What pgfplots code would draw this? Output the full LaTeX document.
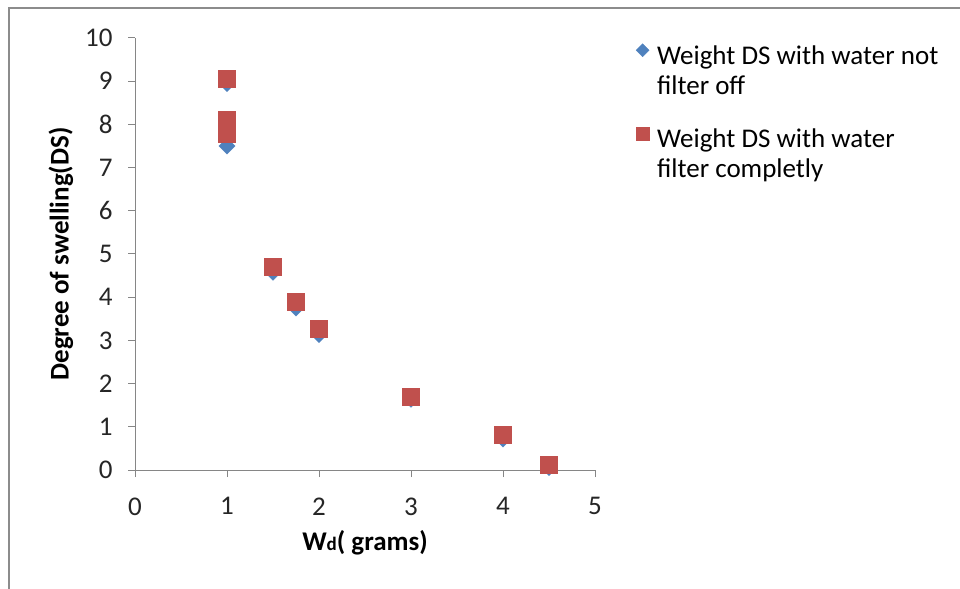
\documentclass[border=0pt]{standalone}
\usepackage{pgfplots}
\pgfplotsset{compat=1.18}
\usepackage{fontspec}
\setmainfont{Carlito}
\definecolor{sblue}{HTML}{4F81BD}
\definecolor{sred}{HTML}{C0504D}
\definecolor{axgray}{HTML}{868686}
\definecolor{bordergray}{HTML}{8C8C8C}
\newcommand{\ls}{\rule[-11bp]{0pt}{40bp}}
\begin{document}
\begin{tikzpicture}
\path[use as bounding box] (0,0) rectangle (960bp,589bp);
\draw[bordergray, line width=2bp] (9bp,0) -- (9bp,581bp) -- (960bp,581bp);
\begin{axis}[
  at={(135bp,119bp)}, anchor=south west,
  scale only axis, width=460bp, height=432bp,
  xmin=0, xmax=5, ymin=0, ymax=10,
  xtick={0,1,2,3,4,5}, ytick={0,1,...,10},
  axis x line*=bottom, axis y line*=left,
  axis line style={axgray, line width=1bp},
  every tick/.style={axgray, line width=1bp},
  tick align=outside, major tick length=7bp,
  /pgf/number format/assume math mode=true,
  tick label style={font=\fontsize{27bp}{32bp}\selectfont, text=black!85},
  xticklabel style={yshift=-17bp},
  yticklabel style={xshift=-12bp},
  xlabel={\textbf{W{\fontsize{19bp}{22bp}\selectfont d}( grams)}},
  ylabel={\textbf{Degree of swelling(DS)}},
  label style={font=\fontsize{27bp}{32bp}\selectfont},
  xlabel style={at={(0.5,0)}, anchor=center, yshift=-73bp},
  ylabel style={at={(0,0.5)}, anchor=center, yshift=74bp},
  clip=false,
  legend style={at={(1.078,1.012)}, anchor=north west, draw=none, fill=none,
    font=\fontsize{27bp}{32bp}\selectfont, row sep=0bp,
    nodes={inner ysep=0bp, inner xsep=8bp},
    cells={anchor=west}},
  legend cell align=left,
]
\addlegendimage{only marks, mark=square*, mark size=4.6bp, color=sblue, mark options={rotate=45, fill=sblue, draw=sblue}}
\addlegendentry{\ls Weight DS with water not}
\addlegendimage{empty legend}
\addlegendentry{\ls filter off}
\addlegendimage{empty legend}
\addlegendentry{\rule{0pt}{21bp}}
\addlegendimage{only marks, mark=square*, mark size=6.5bp, color=sred, mark options={fill=sred, draw=sred}}
\addlegendentry{\ls Weight DS with water}
\addlegendimage{empty legend}
\addlegendentry{\ls filter completly}
\addplot[forget plot, only marks, mark=square*, mark size=5.8bp, color=sblue, mark options={rotate=45, fill=sblue, draw=sblue}]
coordinates {(1,8.95) (1,7.95) (1,7.7) (1,7.5) (1.5,4.58) (1.75,3.75) (2,3.14) (3,1.64) (4,0.72) (4.5,0.06)};
\addplot[forget plot, only marks, mark=square*, mark size=8.5bp, color=sred, mark options={fill=sred, draw=sred}]
coordinates {(1,9.05) (1,8.12) (1,7.95) (1,7.78) (1.5,4.70) (1.75,3.90) (2,3.27) (3,1.70) (4,0.81) (4.5,0.13)};
\end{axis}
\end{tikzpicture}
\end{document}
